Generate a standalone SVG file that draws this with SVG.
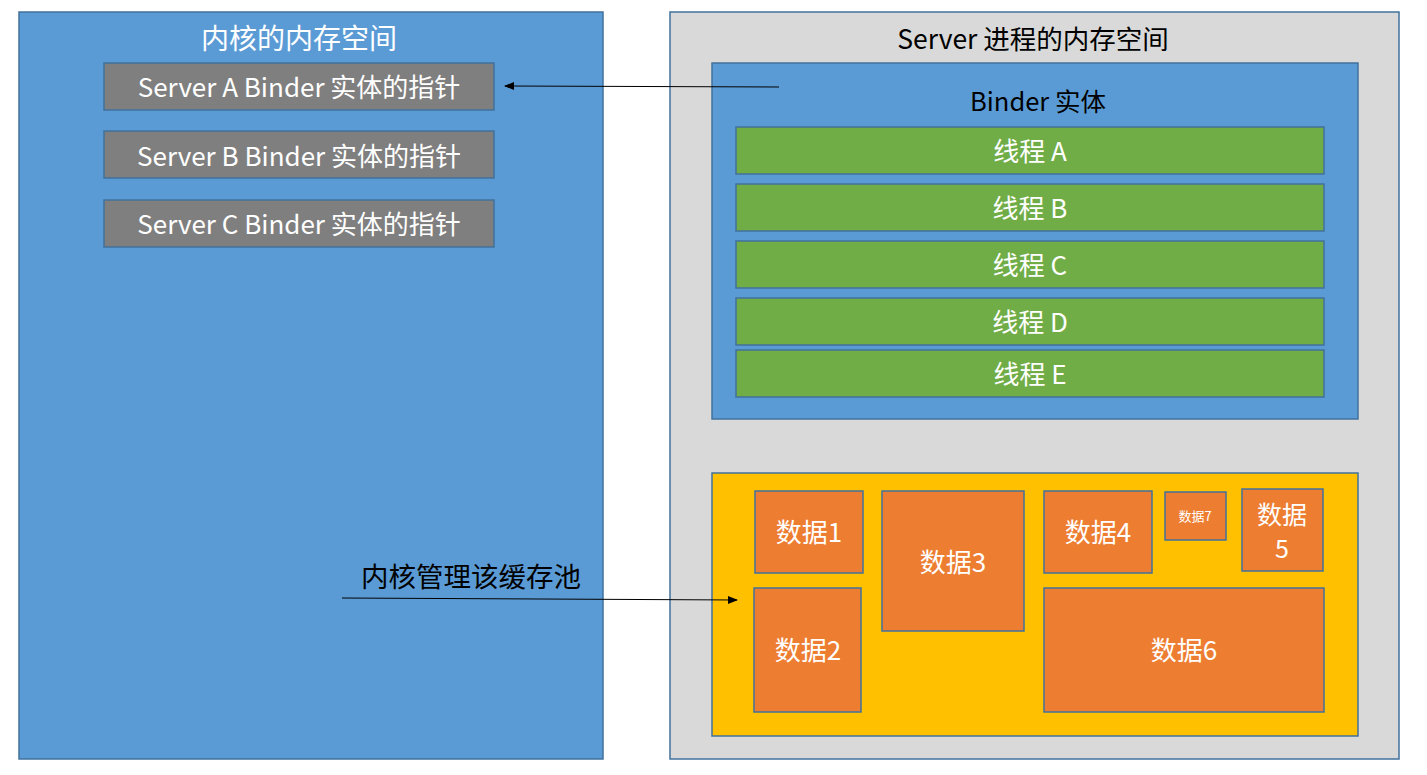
<svg xmlns="http://www.w3.org/2000/svg" width="1427" height="775" viewBox="0 0 1427 775">
<defs>
<style>
text{font-family:"Noto Sans CJK SC","Noto Sans",sans-serif;text-anchor:middle;dominant-baseline:central}
.blue{fill:#5B9BD5;stroke:#41719C;stroke-width:1.5}
.gray{fill:#7F7F7F;stroke:#41719C;stroke-width:1.5}
.lgray{fill:#D9D9D9;stroke:#41719C;stroke-width:1.5}
.green{fill:#70AD47;stroke:#41719C;stroke-width:1.5}
.yellow{fill:#FFC000;stroke:#41719C;stroke-width:1.5}
.orange{fill:#ED7D31;stroke:#41719C;stroke-width:1.5}
.w{fill:#fff}
.k{fill:#000}
.t26{font-size:26px}
.t24{font-size:24px}
.conn{stroke:#000;stroke-width:1;fill:none;marker-end:url(#arr)}
</style>
<marker id="arr" viewBox="0 0 10 10" refX="9" refY="5" markerWidth="10" markerHeight="10" markerUnits="userSpaceOnUse" orient="auto">
<path d="M0,1 L10,5 L0,9 Z" fill="#000"/>
</marker>
</defs>
<rect width="1427" height="775" fill="#fff"/>
<g id="kernel">
<rect class="blue" x="19" y="12" width="584" height="747"/>
<text class="w" style="font-size:28px" x="299" y="37">内核的内存空间</text>
</g>
<g id="ptrA"><rect class="gray" x="104" y="63" width="390" height="47"/><text class="w t26" x="299" y="85">Server A Binder 实体的指针</text></g>
<g id="ptrB"><rect class="gray" x="104" y="131" width="390" height="47"/><text class="w t26" x="299" y="154">Server B Binder 实体的指针</text></g>
<g id="ptrC"><rect class="gray" x="104" y="200" width="390" height="47"/><text class="w t26" x="299" y="222">Server C Binder 实体的指针</text></g>
<g id="server">
<rect class="lgray" x="670" y="12" width="729" height="747"/>
<text class="k" style="font-size:26.5px" x="1033" y="37">Server 进程的内存空间</text>
</g>
<g id="binder">
<rect class="blue" x="712" y="63" width="646" height="356"/>
<text class="k" style="font-size:25.5px" x="1038" y="99">Binder 实体</text>
</g>
<g id="threadA"><rect class="green" x="736" y="127" width="588" height="47"/><text class="w t26" x="1030" y="149">线程 A</text></g>
<g id="threadB"><rect class="green" x="736" y="184" width="588" height="47"/><text class="w t26" x="1030" y="206">线程 B</text></g>
<g id="threadC"><rect class="green" x="736" y="241" width="588" height="47"/><text class="w t26" x="1030" y="263">线程 C</text></g>
<g id="threadD"><rect class="green" x="736" y="298" width="588" height="47"/><text class="w t26" x="1030" y="320">线程 D</text></g>
<g id="threadE"><rect class="green" x="736" y="350" width="588" height="47"/><text class="w t26" x="1030" y="372">线程 E</text></g>
<g id="pool"><rect class="yellow" x="712" y="473" width="646" height="263"/></g>
<g id="data1"><rect class="orange" x="755" y="491" width="108" height="82"/><text class="w t26" x="809" y="530">数据1</text></g>
<g id="data2"><rect class="orange" x="754" y="588" width="107" height="124"/><text class="w t26" x="808" y="648">数据2</text></g>
<g id="data3"><rect class="orange" x="882" y="491" width="142" height="140"/><text class="w t26" x="953" y="560">数据3</text></g>
<g id="data4"><rect class="orange" x="1044" y="491" width="108" height="82"/><text class="w t26" x="1098" y="530">数据4</text></g>
<g id="data7"><rect class="orange" x="1165" y="492" width="61" height="48"/><text class="w" style="font-size:13px" x="1195" y="515">数据7</text></g>
<g id="data5"><rect class="orange" x="1242" y="489" width="81" height="82"/><text class="w" style="font-size:25px" x="1282" y="513">数据</text><text class="w" style="font-size:25px" x="1282" y="547">5</text></g>
<g id="data6"><rect class="orange" x="1044" y="588" width="280" height="124"/><text class="w t26" x="1184" y="648">数据6</text></g>
<g id="label"><text class="k" style="font-size:27.5px" x="471" y="575">内核管理该缓存池</text></g>
<g id="connectors">
<line class="conn" x1="779" y1="87" x2="505" y2="86"/>
<line class="conn" x1="342" y1="598" x2="737" y2="600"/>
</g>
</svg>
